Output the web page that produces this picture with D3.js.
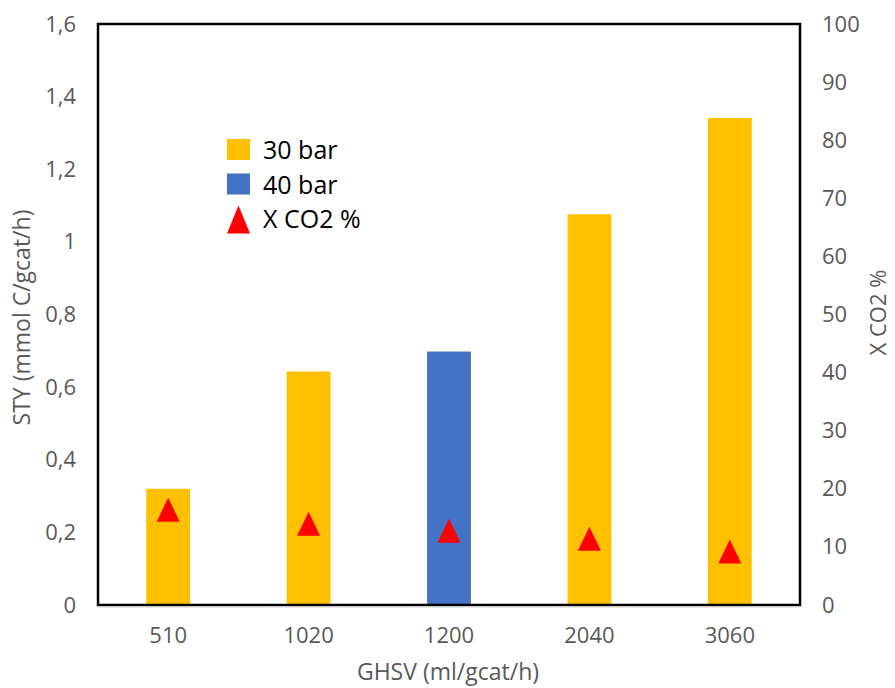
<!DOCTYPE html>
<html>
<head>
<meta charset="utf-8">
<script src="https://cdn.jsdelivr.net/npm/d3@7"></script>
<style>
  html, body { margin: 0; padding: 0; background: #fff; }
  svg { display: block; }
</style>
</head>
<body>
<svg id="chart" width="895" height="688"></svg>
<script>
const categories = ["510", "1020", "1200", "2040", "3060"];
const styValues = [0.32, 0.643, 0.698, 1.076, 1.341];
const pressure = ["30 bar", "30 bar", "40 bar", "30 bar", "30 bar"];
const xco2Values = [16.4, 14.0, 12.8, 11.4, 9.2];
const leftTicks = [0, 0.2, 0.4, 0.6, 0.8, 1.0, 1.2, 1.4, 1.6];
const rightTicks = [0, 10, 20, 30, 40, 50, 60, 70, 80, 90, 100];
const legendItems = ["30 bar", "40 bar", "X CO2 %"];

const colors = { "30 bar": "#FFC000", "40 bar": "#4472C4", "X CO2 %": "#FF0000" };
const font = "'Open Sans', 'Liberation Sans', sans-serif";
const gray = "#595959";

const svg = d3.select("#chart");
const L = 98, R = 800, T = 24, B = 605;

const x = d3.scaleBand().domain(categories).range([L, R]).paddingInner(0.688).paddingOuter(0.344);
const yL = d3.scaleLinear().domain([0, 1.6]).range([B, T]);
const yR = d3.scaleLinear().domain([0, 100]).range([B, T]);

function triPath(w, h) {
  return `M0,${-h / 2}L${w / 2},${h / 2}L${-w / 2},${h / 2}Z`;
}

// bars
svg.append("g").selectAll("rect").data(categories).join("rect")
  .attr("x", d => x(d))
  .attr("width", x.bandwidth())
  .attr("y", (d, i) => yL(styValues[i]))
  .attr("height", (d, i) => B - yL(styValues[i]))
  .attr("fill", (d, i) => colors[pressure[i]]);

// triangles
svg.append("g").selectAll("path").data(categories).join("path")
  .attr("d", triPath(23, 24))
  .attr("transform", (d, i) => `translate(${x(d) + x.bandwidth() / 2},${yR(xco2Values[i])})`)
  .attr("fill", colors["X CO2 %"]);

// frame
svg.append("rect").attr("x", L).attr("y", T).attr("width", R - L).attr("height", B - T)
  .attr("fill", "none").attr("stroke", "#000").attr("stroke-width", 2.5);
svg.append("line").attr("x1", L).attr("x2", R).attr("y1", B + 2).attr("y2", B + 2)
  .attr("stroke", "#d0d0d0").attr("stroke-width", 1);

// axes
const axL = d3.axisLeft(yL).tickValues(leftTicks).tickSize(0).tickPadding(22)
  .tickFormat(d => String(+d.toFixed(1)).replace(".", ","));
const gL = svg.append("g").attr("transform", `translate(${L},0)`).call(axL);
const axR = d3.axisRight(yR).tickValues(rightTicks).tickSize(0).tickPadding(22);
const gR = svg.append("g").attr("transform", `translate(${R},0)`).call(axR);
const axB = d3.axisBottom(x).tickSize(0).tickPadding(22);
const gB = svg.append("g").attr("transform", `translate(0,${B})`).call(axB);
[gL, gR, gB].forEach(g => {
  g.select(".domain").remove();
  g.selectAll("text").attr("font-family", font).attr("font-size", 22).attr("fill", gray);
});

// titles
svg.append("text").attr("x", 448).attr("y", 680).attr("text-anchor", "middle")
  .attr("font-family", font).attr("font-size", 23).attr("fill", gray).text("GHSV (ml/gcat/h)");
svg.append("text").attr("transform", `translate(30,${(T + B) / 2 + 3}) rotate(-90)`).attr("text-anchor", "middle")
  .attr("font-family", font).attr("font-size", 23).attr("fill", gray).text("STY (mmol C/gcat/h)");
svg.append("text").attr("transform", `translate(886,${(T + B) / 2 - 2}) rotate(-90)`).attr("text-anchor", "middle")
  .attr("font-family", font).attr("font-size", 22).attr("fill", gray).text("X CO2 %");

// legend
const lg = svg.append("g");
legendItems.forEach((name, i) => {
  const cy = 150 + i * 34.5;
  if (name === "X CO2 %") {
    lg.append("path").attr("d", triPath(23, 28))
      .attr("transform", `translate(238.5,${cy + 0.5})`).attr("fill", colors[name]);
  } else {
    lg.append("rect").attr("x", 227).attr("y", cy - 11).attr("width", 23).attr("height", 21).attr("fill", colors[name]);
  }
  lg.append("text").attr("x", 263).attr("y", cy + 9).attr("font-family", font).attr("font-size", 25)
    .attr("fill", "#000").text(name);
});
</script>
</body>
</html>
